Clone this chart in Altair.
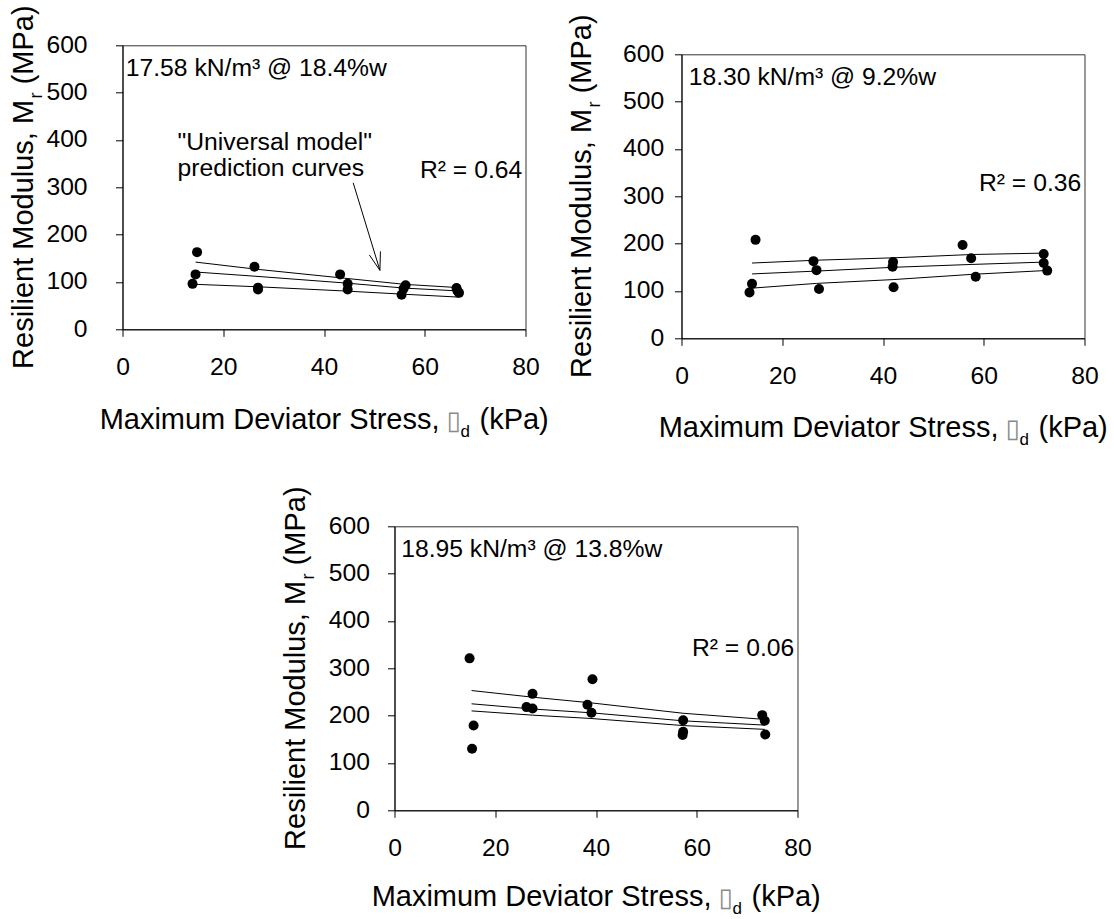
import altair as alt
import pandas as pd

FONT = "Liberation Sans"
TITLE_PX = 29
SUB_PX = 17
TICK_PX = 24.7
NOTE_PX = 24.7
PLOT_W = 403
PLOT_H = 284

STRESS_TICKS = [0, 20, 40, 60, 80]
MODULUS_TICKS = [0, 100, 200, 300, 400, 500, 600]

# ---- 17.58 kN/m3 @ 18.4 %w
p1_label = "17.58 kN/m³ @ 18.4%w"
p1_r2 = 0.64
p1_stress = [14.8, 14.5, 13.9, 26.2, 26.9, 26.9, 43.2, 44.7, 44.7, 56.2, 55.8, 55.4, 66.3, 66.8, 66.5]
p1_modulus = [163, 116, 96, 132, 88, 84, 116, 96, 84, 93, 86, 73, 87, 77, 81]
p1_curve_stress = [14.5, 26.5, 44.0, 56.0, 66.8]
p1_curve_upper = [142, 127, 108, 95, 88]
p1_curve_middle = [121, 112, 98, 87, 81]
p1_curve_lower = [95, 90, 81, 74, 68]

# ---- 18.30 kN/m3 @ 9.2 %w
p2_label = "18.30 kN/m³ @ 9.2%w"
p2_r2 = 0.36
p2_stress = [14.7, 14.0, 13.5, 26.2, 26.8, 27.3, 42.0, 41.9, 42.1, 55.8, 57.5, 58.4, 71.9, 71.9, 72.6]
p2_modulus = [208, 115, 97, 163, 144, 104, 161, 151, 108, 197, 169, 130, 178, 159, 143]
p2_curve_stress = [14.0, 26.8, 42.0, 57.5, 72.0]
p2_curve_upper = [159, 165, 170, 177, 180]
p2_curve_middle = [136, 142, 150, 156, 161]
p2_curve_lower = [106, 116, 124, 135, 143]

# ---- 18.95 kN/m3 @ 13.8 %w
p3_label = "18.95 kN/m³ @ 13.8%w"
p3_r2 = 0.06
p3_stress = [14.9, 15.7, 15.4, 27.4, 26.2, 27.4, 39.3, 38.3, 39.1, 57.3, 57.3, 57.2, 73.0, 73.5, 73.6]
p3_modulus = [321, 179, 130, 246, 218, 215, 277, 223, 206, 190, 166, 159, 201, 189, 160]
p3_curve_stress = [15.3, 27.4, 39.0, 57.3, 73.5]
p3_curve_upper = [253, 239, 227, 205, 192]
p3_curve_middle = [225, 214, 206, 189, 180]
p3_curve_lower = [210, 201, 194, 179, 171]

# callout arrow for the model curves (data units): tail and two head barbs, all ending at the tip
arrow_from_x = [45.8, 49.0, 51.2]
arrow_from_y = [309.4, 157.2, 164.6]
arrow_tip = (51.1, 124.5)


def note(text, x, y, size=NOTE_PX, align="left", angle=0, dx=0, dy=0,
         font=FONT, color="black"):
    props = dict(font=font, fontSize=size, align=align, baseline="alphabetic", color=color)
    if angle:
        props["angle"] = angle
    if dx:
        props["dx"] = dx
    if dy:
        props["dy"] = dy
    return (
        alt.Chart(pd.DataFrame({"t": [text]}))
        .mark_text(**props)
        .encode(x=alt.value(x), y=alt.value(y), text="t:N")
    )


def y_title(bx, ay):
    # "Resilient Modulus, M_r (MPa)" set vertically, with a real subscript r
    sub_w = 0.333 * 18
    gap = 0.278 * TITLE_PX
    return [
        note("Resilient Modulus, M", bx, ay, size=TITLE_PX, align="right", angle=270),
        note("r", bx, ay, size=18, align="left", angle=270, dx=1.5, dy=9),
        note("(MPa)", bx, ay, size=TITLE_PX, align="left", angle=270, dx=1.5 + sub_w + gap),
    ]


def x_title(ax, by):
    # "Maximum Deviator Stress, ▯_d (kPa)"
    return [
        note("Maximum Deviator Stress,", ax, by, size=TITLE_PX, align="right"),
        note("▯", ax, by, size=26, align="left", dx=7, font="DejaVu Sans", color="#8a8a8a"),
        note("d", ax, by, size=SUB_PX, align="left", dx=21, dy=8),
        note("(kPa)", ax, by, size=TITLE_PX, align="left", dx=40),
    ]


def panel(stress, modulus, cx, upper, middle, lower, label, label_dx, r2, r2_y,
          y_pad, title_y, extra=()):
    xs = alt.Scale(domain=[0, 80], nice=False)
    ys = alt.Scale(domain=[0, 600], nice=False)
    x_axis = alt.Axis(values=STRESS_TICKS, title=None, grid=False, domainColor="black",
                      tickColor="black", tickSize=7, labelFont=FONT, labelFontSize=TICK_PX,
                      labelColor="black", labelPadding=38, labelBaseline="alphabetic",
                      labelFlush=False, labelOverlap=False)
    y_axis = alt.Axis(values=MODULUS_TICKS, title=None, grid=False, domainColor="black",
                      tickColor="black", tickSize=7, labelFont=FONT, labelFontSize=TICK_PX,
                      labelColor="black", labelPadding=y_pad, labelFlush=False,
                      labelOverlap=False)

    rows = []
    for name, vals in (("upper", upper), ("middle", middle), ("lower", lower)):
        for sx, v in zip(cx, vals):
            rows.append({"stress": sx, "mr": v, "curve": name})
    curves = (
        alt.Chart(pd.DataFrame(rows))
        .mark_line(color="black", strokeWidth=1)
        .encode(x=alt.X("stress:Q", scale=xs, axis=x_axis),
                y=alt.Y("mr:Q", scale=ys, axis=y_axis),
                detail="curve:N")
    )
    pts = (
        alt.Chart(pd.DataFrame({"stress": stress, "mr": modulus}))
        .mark_circle(size=100, color="black", opacity=1)
        .encode(x=alt.X("stress:Q", scale=xs), y=alt.Y("mr:Q", scale=ys))
    )
    layers = [curves, pts]
    layers += list(extra)
    layers.append(note(label, label_dx, 30.5))
    layers.append(note(f"R² = {r2:.2f}", PLOT_W - 3.3, r2_y, align="right"))
    layers += y_title(-90, 54.6)
    layers += x_title(317, title_y)
    return alt.layer(*layers).properties(
        width=PLOT_W, height=PLOT_H,
        view=alt.ViewBackground(stroke="#333333", strokeWidth=1),
    )


arrow_df = pd.DataFrame({
    "x": arrow_from_x, "y": arrow_from_y,
    "x2": [arrow_tip[0]] * 3, "y2": [arrow_tip[1]] * 3,
})
arrow = (
    alt.Chart(arrow_df)
    .mark_rule(color="black", strokeWidth=1)
    .encode(x=alt.X("x:Q", scale=alt.Scale(domain=[0, 80], nice=False)),
            y=alt.Y("y:Q", scale=alt.Scale(domain=[0, 600], nice=False)),
            x2="x2:Q", y2="y2:Q")
)
callout = [arrow, note('"Universal model"', 55, 104.3), note("prediction curves", 55, 131)]

chart1 = panel(p1_stress, p1_modulus, p1_curve_stress, p1_curve_upper, p1_curve_middle,
               p1_curve_lower, p1_label, 3.3, p1_r2, 133, 28.4, PLOT_H + 100, callout)
chart2 = panel(p2_stress, p2_modulus, p2_curve_stress, p2_curve_upper, p2_curve_middle,
               p2_curve_lower, p2_label, 7.3, p2_r2, 137, 10.7, PLOT_H + 99)
chart3 = panel(p3_stress, p3_modulus, p3_curve_stress, p3_curve_upper, p3_curve_middle,
               p3_curve_lower, p3_label, 6.7, p3_r2, 130, 18, PLOT_H + 96)


def spacer(w, h):
    return (
        alt.Chart(pd.DataFrame({"v": [0]}))
        .mark_point(opacity=0)
        .encode(x=alt.value(0), y=alt.value(0))
        .properties(width=w, height=h)
    )


right_col = alt.vconcat(spacer(PLOT_W, 9), chart2, spacing=0, bounds="flush")
row1 = alt.hconcat(chart1, right_col, spacing=156, bounds="flush")
row2 = alt.hconcat(spacer(272, 10), chart3, spacing=0, bounds="flush")

# the nested rows contribute no height of their own to a flush layout, so the
# gap below covers the upper row's plots as well as the space between rows
chart = (
    alt.vconcat(row1, row2, spacing=481, bounds="flush")
    .properties(padding={"left": 8.5, "top": 4.3, "right": 0, "bottom": 0})
    .configure_view(stroke="transparent")
)

chart.save("out.html", embed_options={"renderer": "svg", "actions": False})
